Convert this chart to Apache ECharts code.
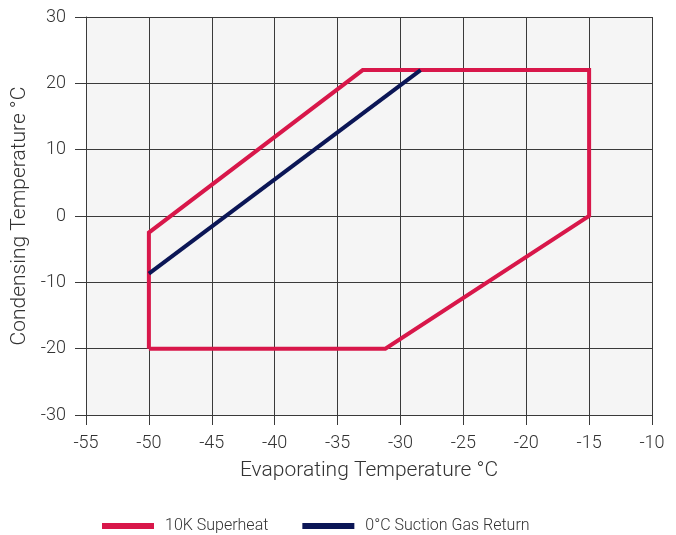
<!DOCTYPE html>
<html>
<head>
<meta charset="utf-8">
<script src="https://cdn.jsdelivr.net/npm/echarts@6/dist/echarts.min.js"></script>
<style>
  html, body { margin: 0; padding: 0; background: #fff; }
  #chart { width: 676px; height: 535px; }
</style>
</head>
<body>
<div id="chart"></div>
<script>
// envelope outline, 10K superheat (closed polygon)
var superheatEvap = [-50, -50, -33, -15, -15, -31.2, -50]
var superheatCond = [-20, -2.5, 22, 22, 0, -20, -20]
// 0°C suction gas return limit
var returnEvap = [-50, -28.4]
var returnCond = [-8.7, 22]

var seriesNames = ['10K Superheat', '0°C Suction Gas Return']

function pairs(xs, ys) {
  var out = []
  for (var i = 0; i < xs.length; i++) out.push([xs[i], ys[i]])
  return out
}

var textColor = '#333'
var lineColor = '#3a3a3a'
var font = 'Roboto'

var myChart = echarts.init(document.getElementById('chart'))
myChart.setOption({
  animation: false,
  textStyle: { fontFamily: font },
  grid: {
    left: 86, right: 24, top: 17, bottom: 120,
    show: true, backgroundColor: '#f5f5f5', borderWidth: 0
  },
  xAxis: {
    type: 'value', min: -55, max: -10, interval: 5,
    name: 'Evaporating Temperature °C',
    nameLocation: 'middle', nameGap: 45,
    nameTextStyle: { fontSize: 21, color: textColor, fontWeight: 300 },
    axisLine: { show: true, onZero: false, lineStyle: { color: lineColor, width: 1 } },
    axisTick: { show: true, length: 10, lineStyle: { color: lineColor } },
    axisLabel: { fontSize: 18, color: textColor, fontWeight: 300, margin: 19 },
    splitLine: { show: true, lineStyle: { color: lineColor, width: 1 } }
  },
  yAxis: {
    type: 'value', min: -30, max: 30, interval: 10,
    name: 'Condensing Temperature °C',
    nameLocation: 'middle', nameGap: 47,
    nameTextStyle: { fontSize: 21, color: textColor, fontWeight: 300 },
    axisLine: { show: true, onZero: false, lineStyle: { color: lineColor, width: 1 } },
    axisTick: { show: true, length: 11, lineStyle: { color: lineColor } },
    axisLabel: { fontSize: 18, color: textColor, fontWeight: 300, margin: 20 },
    splitLine: { show: true, lineStyle: { color: lineColor, width: 1 } }
  },
  legend: {
    left: 102, top: 518, padding: 0,
    icon: 'rect', itemWidth: 52, itemHeight: 6, itemGap: 34,
    textStyle: { fontSize: 16, color: textColor, fontWeight: 300, padding: [0, 0, 0, 6] },
    data: seriesNames
  },
  series: [
    {
      name: seriesNames[0], type: 'line',
      data: pairs(superheatEvap, superheatCond),
      showSymbol: false, symbol: 'none',
      lineStyle: { color: '#d8174a', width: 4, join: 'miter' },
      itemStyle: { color: '#d8174a' }
    },
    {
      name: seriesNames[1], type: 'line',
      data: pairs(returnEvap, returnCond),
      showSymbol: false, symbol: 'none',
      lineStyle: { color: '#0b1656', width: 4 },
      itemStyle: { color: '#0b1656' }
    }
  ]
})
</script>
</body>
</html>
